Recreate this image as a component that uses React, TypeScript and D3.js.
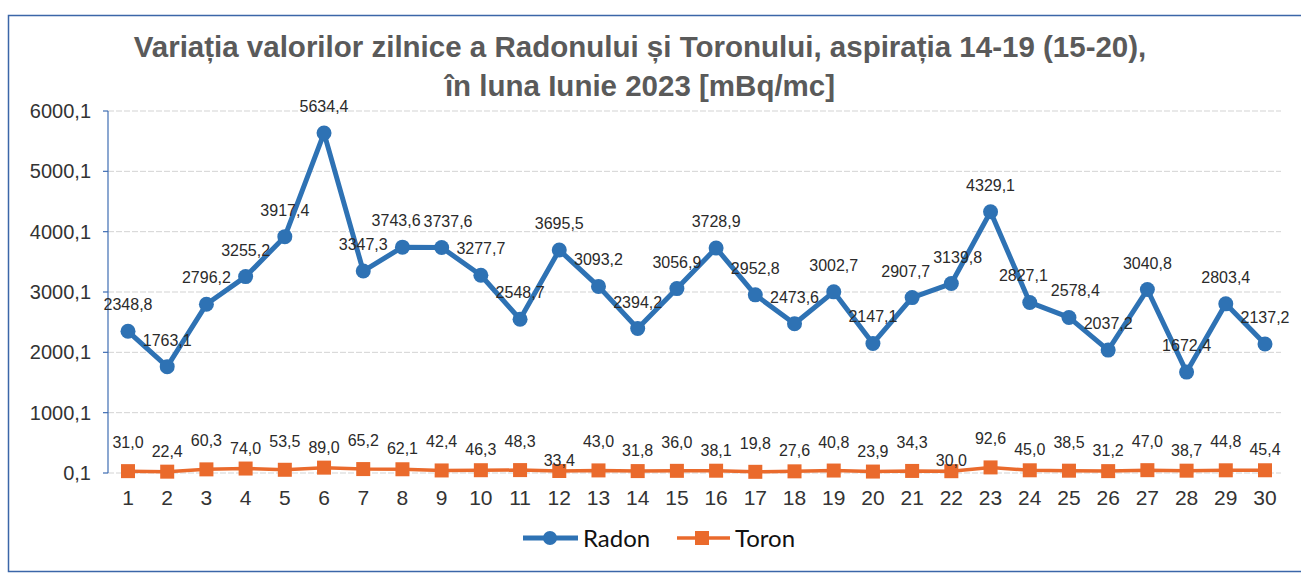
import React from "react";
import * as d3 from "d3";

const days: number[] = Array.from({ length: 30 }, (_, i) => i + 1);
const radon: number[] = [
  2348.8, 1763.1, 2796.2, 3255.2, 3917.4, 5634.4, 3347.3, 3743.6, 3737.6, 3277.7,
  2548.7, 3695.5, 3093.2, 2394.2, 3056.9, 3728.9, 2952.8, 2473.6, 3002.7, 2147.1,
  2907.7, 3139.8, 4329.1, 2827.1, 2578.4, 2037.2, 3040.8, 1672.4, 2803.4, 2137.2,
];
const toron: number[] = [
  31.0, 22.4, 60.3, 74.0, 53.5, 89.0, 65.2, 62.1, 42.4, 46.3,
  48.3, 33.4, 43.0, 31.8, 36.0, 38.1, 19.8, 27.6, 40.8, 23.9,
  34.3, 30.0, 92.6, 45.0, 38.5, 31.2, 47.0, 38.7, 44.8, 45.4,
];
const yTicks: number[] = [0.1, 1000.1, 2000.1, 3000.1, 4000.1, 5000.1, 6000.1];
const titleLines: string[] = [
  "Variația valorilor zilnice a Radonului și Toronului, aspirația 14-19 (15-20),",
  "în luna Iunie 2023 [mBq/mc]",
];
const seriesNames: string[] = ["Radon", "Toron"];

const RADON_COLOR = "#2E72B4";
const TORON_COLOR = "#EA6A2C";
const fmt = (v: number) => v.toFixed(1).replace(".", ",");

const LABEL_FS = 16;
const CHAR_W = LABEL_FS * 0.52;

export default function App() {
  const x = d3.scalePoint<number>().domain(days).range([128, 1265]);
  const y = d3.scaleLinear().domain([0.1, 6000.1]).range([473, 111]);

  const lineR = d3
    .line<number>()
    .x((_, i) => x(days[i]) as number)
    .y((d) => y(d));
  const font = "'Liberation Sans', Arial, sans-serif";

  // Radon labels: above points, pushed apart horizontally when they collide
  const radonLabels = radon.map((v, i) => ({
    text: fmt(v),
    x: x(days[i]) as number,
    y: y(v) - 21,
  }));
  for (let i = 1; i < radonLabels.length; i++) {
    const a = radonLabels[i - 1];
    const b = radonLabels[i];
    const w = a.text.length * CHAR_W;
    const overlapX = w + 2 - (b.x - a.x);
    if (overlapX > 0 && Math.abs(a.y - b.y) < LABEL_FS) {
      a.x -= overlapX / 2;
      b.x += overlapX / 2;
    }
  }

  // Toron label level: odd days higher, even days lower, some further down
  const toronLabelDy = (day: number) => {
    if (day === 12 || day === 22) return -5;
    if (day % 2 === 0) return -15;
    return -23;
  };

  return (
    <svg
      width={1301}
      height={576}
      style={{ position: "absolute", left: 0, top: 0, background: "#fff" }}
    >
      <rect x={0} y={0} width={1301} height={576} fill="#fff" />
      {/* chart border */}
      <rect x={8.5} y={15.5} width={1300} height={556} fill="none" stroke="#3B66A8" strokeWidth={1.5} />

      {/* title */}
      {titleLines.map((t, i) => (
        <text
          key={i}
          x={640}
          y={57 + i * 39}
          textAnchor="middle"
          fontFamily={font}
          fontWeight="bold"
          fontSize={29.5}
          fill="#5A5A5A"
        >
          {t}
        </text>
      ))}

      {/* gridlines */}
      {yTicks.map((t) => (
        <line
          key={t}
          x1={108}
          x2={1281}
          y1={y(t)}
          y2={y(t)}
          stroke="#D3D3D3"
          strokeWidth={1}
          strokeDasharray="6 2"
        />
      ))}

      {/* y axis */}
      <line x1={108} x2={108} y1={y(6000.1)} y2={y(0.1)} stroke="#3F6DB3" strokeWidth={1.2} />
      {yTicks.map((t) => (
        <g key={"t" + t}>
          <line x1={103} x2={108} y1={y(t)} y2={y(t)} stroke="#3F6DB3" strokeWidth={1.2} />
          <text
            x={91}
            y={y(t) + 7}
            textAnchor="end"
            fontFamily={font}
            fontSize={20}
            fill="#333"
          >
            {fmt(t)}
          </text>
        </g>
      ))}

      {/* x labels */}
      {days.map((d) => (
        <text
          key={"x" + d}
          x={x(d)}
          y={505}
          textAnchor="middle"
          fontFamily={font}
          fontSize={21}
          fill="#333"
        >
          {d}
        </text>
      ))}

      {/* Radon series */}
      <path d={lineR(radon) || ""} fill="none" stroke={RADON_COLOR} strokeWidth={5} strokeLinejoin="round" />
      {radon.map((v, i) => (
        <circle key={"r" + i} cx={x(days[i])} cy={y(v)} r={7.5} fill={RADON_COLOR} />
      ))}
      {radonLabels.map((l, i) => (
        <text
          key={"rl" + i}
          x={l.x}
          y={l.y}
          textAnchor="middle"
          fontFamily={font}
          fontSize={LABEL_FS}
          fill="#2a2a2a"
        >
          {l.text}
        </text>
      ))}

      {/* Toron series */}
      <path d={lineR(toron) || ""} fill="none" stroke={TORON_COLOR} strokeWidth={3.5} />
      {toron.map((v, i) => (
        <rect
          key={"s" + i}
          x={(x(days[i]) as number) - 7}
          y={y(v) - 7}
          width={14}
          height={14}
          fill={TORON_COLOR}
        />
      ))}
      {toron.map((v, i) => (
        <text
          key={"tl" + i}
          x={x(days[i])}
          y={y(v) + toronLabelDy(days[i])}
          textAnchor="middle"
          fontFamily={font}
          fontSize={LABEL_FS}
          fill="#2a2a2a"
        >
          {fmt(v)}
        </text>
      ))}

      {/* legend */}
      <g>
        <line x1={523} x2={578} y1={538} y2={538} stroke={RADON_COLOR} strokeWidth={5} />
        <circle cx={550} cy={538} r={7} fill={RADON_COLOR} />
        <text x={583} y={546.5} fontFamily="Lato, 'Open Sans', sans-serif" fontSize={24} fill="#111">
          {seriesNames[0]}
        </text>
        <line x1={677} x2={730} y1={538} y2={538} stroke={TORON_COLOR} strokeWidth={3.5} />
        <rect x={695} y={531} width={14} height={14} fill={TORON_COLOR} />
        <text x={735} y={546.5} fontFamily="Lato, 'Open Sans', sans-serif" fontSize={24} fill="#111">
          {seriesNames[1]}
        </text>
      </g>
    </svg>
  );
}
